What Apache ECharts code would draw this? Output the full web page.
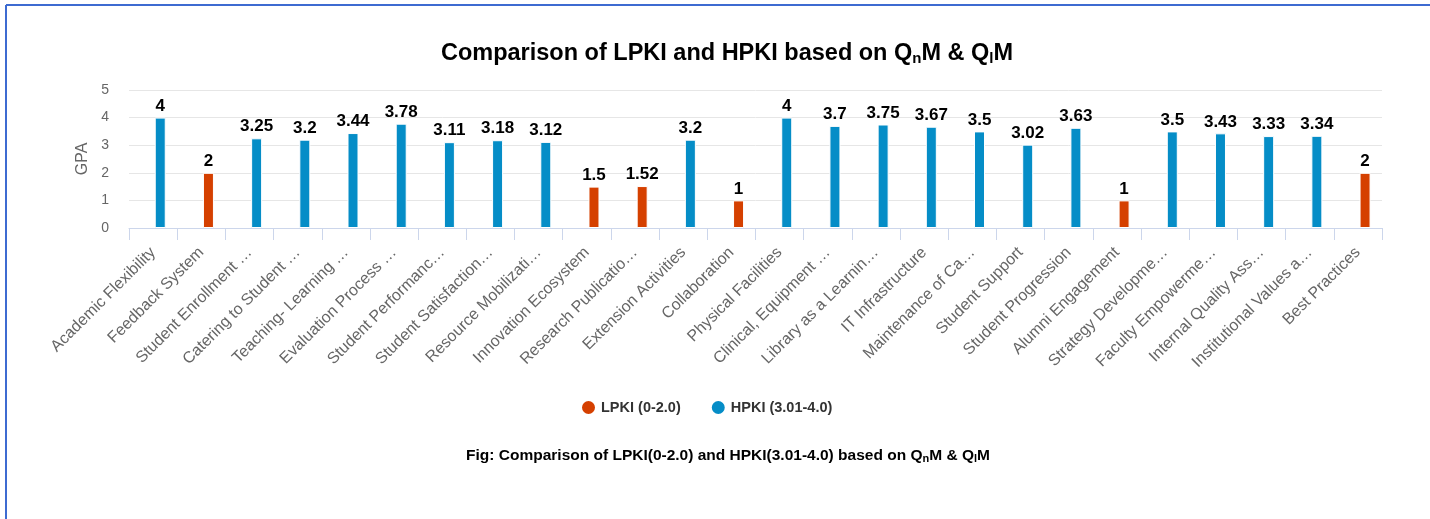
<!DOCTYPE html>
<html>
<head>
<meta charset="utf-8">
<script src="https://cdn.jsdelivr.net/npm/echarts@6/dist/echarts.min.js"></script>
<style>
html,body{margin:0;padding:0;background:#fff;}
#chart{width:1430px;height:519px;}
</style>
</head>
<body>
<div id="chart"></div>
<script>
const categories = [
  'Academic Flexibility', 'Feedback System', 'Student Enrollment …', 'Catering to Student …',
  'Teaching- Learning …', 'Evaluation Process …', 'Student Performanc…', 'Student Satisfaction…',
  'Resource Mobilizati…', 'Innovation Ecosystem', 'Research Publicatio…', 'Extension Activities',
  'Collaboration', 'Physical Facilities', 'Clinical, Equipment …', 'Library as a Learnin…',
  'IT Infrastructure', 'Maintenance of Ca…', 'Student Support', 'Student Progression',
  'Alumni Engagement', 'Strategy Developme…', 'Faculty Empowerme…', 'Internal Quality Ass…',
  'Institutional Values a…', 'Best Practices'
];
const lpkiValues = [null, 2, null, null, null, null, null, null, null, 1.5, 1.52, null, 1,
  null, null, null, null, null, null, null, 1, null, null, null, null, 2];
const hpkiValues = [4, null, 3.25, 3.2, 3.44, 3.78, 3.11, 3.18, 3.12, null, null, 3.2, null,
  4, 3.7, 3.75, 3.67, 3.5, 3.02, 3.63, null, 3.5, 3.43, 3.33, 3.34, null];
const emptySlot = categories.map(() => null);
const yTicks = [0, 1, 2, 3, 4, 5];

const FONT = '"Liberation Sans", Arial, sans-serif';
const chart = echarts.init(document.getElementById('chart'), null, {renderer: 'canvas'});

const barLabel = {
  show: true, position: 'top', distance: 3,
  color: '#000', fontWeight: 'bold', fontSize: 17, fontFamily: FONT
};

chart.setOption({
  animation: false,
  textStyle: {fontFamily: FONT},
  title: [{
    text: 'Comparison of LPKI and HPKI based on Q{s|n}M & Q{s|l}M',
    left: 722, top: 37, textAlign: 'center',
    textStyle: {
      fontSize: 23.5, fontWeight: 'bold', color: '#000', fontFamily: FONT,
      rich: {s: {fontSize: 15, fontWeight: 'bold', color: '#000', fontFamily: FONT, padding: [9, 0, 0, 0]}}
    }
  }, {
    text: 'Fig: Comparison of LPKI(0-2.0) and HPKI(3.01-4.0) based on Q{s|n}M & Q{s|l}M',
    left: 723, top: 442, textAlign: 'center',
    textStyle: {
      fontSize: 15.5, fontWeight: 'bold', color: '#000', fontFamily: FONT,
      rich: {s: {fontSize: 11, fontWeight: 'bold', color: '#000', fontFamily: FONT, padding: [6, 0, 0, 0]}}
    }
  }],
  legend: {
    data: ['LPKI (0-2.0)', 'HPKI (3.01-4.0)'],
    left: 575, top: 394, icon: 'circle', itemWidth: 15, itemHeight: 15, itemGap: 29, itemTextGap: 7,
    textStyle: {fontSize: 14.5, fontWeight: 'bold', color: '#333', fontFamily: FONT}
  },
  grid: {left: 129, right: 48, top: 90, bottom: 291, containLabel: false},
  xAxis: {
    type: 'category', data: categories,
    axisLine: {lineStyle: {color: '#ccd6eb', width: 1}},
    axisTick: {show: true, length: 12, lineStyle: {color: '#ccd6eb'}},
    axisLabel: {rotate: 45, interval: 0, fontSize: 16, color: '#666', fontFamily: FONT, margin: 22}
  },
  yAxis: {
    type: 'value', min: 0, max: 5, interval: 1,
    name: 'GPA', nameLocation: 'middle', nameRotate: 90, nameGap: 35,
    nameTextStyle: {fontSize: 16, color: '#666', fontFamily: FONT},
    axisLine: {show: false}, axisTick: {show: false},
    axisLabel: {fontSize: 14, color: '#666', fontFamily: FONT, margin: 20,
      formatter: v => (yTicks.includes(v) ? String(v) : '')},
    splitLine: {lineStyle: {color: '#e6e6e6'}}
  },
  series: [
    {name: 'pad', type: 'bar', stack: 'pad', data: emptySlot, barWidth: 11, barGap: '30%', silent: true},
    {name: 'LPKI (0-2.0)', type: 'bar', stack: 'main', data: lpkiValues, barWidth: 11, barGap: '30%',
      itemStyle: {color: '#d54000', borderColor: '#fff', borderWidth: 1}, label: barLabel},
    {name: 'HPKI (3.01-4.0)', type: 'bar', stack: 'main', data: hpkiValues, barWidth: 11, barGap: '30%',
      itemStyle: {color: '#058dc7', borderColor: '#fff', borderWidth: 1}, label: barLabel}
  ],
  graphic: [
    {type: 'line', shape: {x1: 6, y1: 5, x2: 1430, y2: 5}, style: {stroke: '#3d6bd1', lineWidth: 2}},
    {type: 'line', shape: {x1: 6, y1: 5, x2: 6, y2: 519}, style: {stroke: '#3d6bd1', lineWidth: 2}}
  ]
});
</script>
</body>
</html>
